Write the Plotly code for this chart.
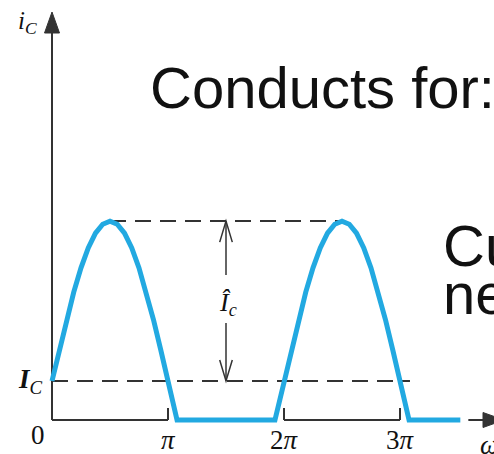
import plotly.graph_objects as go

# Collector current i_C against phase (multiples of pi); current in units of I_C
phase_arch1 = [0.0, 0.0625, 0.125, 0.1875, 0.25, 0.3125, 0.375, 0.4375, 0.5,
               0.5625, 0.625, 0.6875, 0.75, 0.8125, 0.875, 0.9375, 1.0, 1.078]
current_arch1 = [1.0, 1.8, 2.57, 3.28, 3.9, 4.41, 4.79, 5.02, 5.1,
                 5.02, 4.79, 4.41, 3.9, 3.28, 2.57, 1.8, 1.0, 0.0]
phase_arch2 = [1.922, 2.0, 2.0625, 2.125, 2.1875, 2.25, 2.3125, 2.375, 2.4375, 2.5,
               2.5625, 2.625, 2.6875, 2.75, 2.8125, 2.875, 2.9375, 3.0, 3.078]
current_arch2 = [0.0, 1.0, 1.8, 2.57, 3.28, 3.9, 4.41, 4.79, 5.02, 5.1,
                 5.02, 4.79, 4.41, 3.9, 3.28, 2.57, 1.8, 1.0, 0.0]
phase_cutoff_end = 3.52

quiescent_level = 1.0      # I_C
peak_level = 5.1           # I_C + Î_c

tick_phases = [1, 2, 3]
tick_labels = ["<i>π</i>", "2<i>π</i>", "3<i>π</i>"]

W, H = 494, 454
X_RANGE = [-0.4483, 3.8103]
Y_RANGE = [-0.8718, 10.769]
DX = (X_RANGE[1] - X_RANGE[0]) / W   # data units per pixel
DY = (Y_RANGE[1] - Y_RANGE[0]) / H

AXIS = "#333333"
BLUE = "#22A9E1"
SERIF = "Liberation Serif, Times New Roman, serif"
SANS = "Liberation Sans, Arial, sans-serif"

x_curve = phase_arch1 + phase_arch2 + [phase_cutoff_end]
y_curve = current_arch1 + current_arch2 + [0.0]

fig = go.Figure()
fig.add_trace(go.Scatter(x=x_curve, y=y_curve, mode="lines",
                         line=dict(color=BLUE, width=5), hoverinfo="skip"))

shapes = []


def seg(x0, y0, x1, y1, color=AXIS, width=2, dash=None):
    shapes.append(dict(type="line", xref="x", yref="y", x0=x0, y0=y0, x1=x1, y1=y1,
                       line=dict(color=color, width=width, dash=dash), layer="below"))


def path(d, fill=None, width=2):
    shapes.append(dict(type="path", xref="x", yref="y", path=d,
                       fillcolor=fill if fill else "rgba(0,0,0,0)",
                       line=dict(color=AXIS, width=width if not fill else 1), layer="below"))


# vertical axis with filled arrowhead
head_len, head_half = 21, 7.5
y_tip = Y_RANGE[1] - 12 * DY
seg(0, 0, 0, y_tip - head_len * DY)
path(f"M 0 {y_tip} L {-head_half * DX} {y_tip - head_len * DY} "
     f"L {head_half * DX} {y_tip - head_len * DY} Z", fill=AXIS)

# horizontal axis: brackets over the conduction angles, then the arrow
tick_h = 12 * DY
seg(0, 0, tick_phases[0], 0)
seg(tick_phases[0], 0, tick_phases[0], tick_h)
seg(tick_phases[1], 0, tick_phases[2], 0)
seg(tick_phases[1], 0, tick_phases[1], tick_h)
seg(tick_phases[2], 0, tick_phases[2], tick_h)
x_arrow0 = phase_cutoff_end + 8 * DX
x_tip = X_RANGE[1] + 10 * DX
seg(x_arrow0, 0, x_tip - head_len * DX, 0)
path(f"M {x_tip} 0 L {x_tip - head_len * DX} {head_half * DY} "
     f"L {x_tip - head_len * DX} {-head_half * DY} Z", fill=AXIS)

# dashed reference levels
seg(0, quiescent_level, 3.086, quiescent_level, dash="16px,9px")
seg(0.5, peak_level, 2.5, peak_level, dash="16px,9px")

# double-headed dimension arrow for the peak amplitude
xa = 1.5
seg(xa, peak_level, xa, 3.72, width=1.5)
seg(xa, 2.49, xa, quiescent_level, width=1.5)
chev_len, chev_half = 21, 6.3
path(f"M {xa - chev_half * DX} {peak_level - chev_len * DY} L {xa} {peak_level} "
     f"L {xa + chev_half * DX} {peak_level - chev_len * DY}", width=1.5)
path(f"M {xa - chev_half * DX} {quiescent_level + chev_len * DY} L {xa} {quiescent_level} "
     f"L {xa + chev_half * DX} {quiescent_level + chev_len * DY}", width=1.5)

annotations = []


def label(text, x, y, size, family=SERIF, xanchor="center", xref="x", yref="y"):
    annotations.append(dict(text=text, x=x, y=y, xref=xref, yref=yref, showarrow=False,
                            xanchor=xanchor, yanchor="middle",
                            font=dict(family=family, size=size, color="#111111")))


def px_label(text, px, py, size, family=SERIF, xanchor="center"):
    label(text, px / W, 1 - py / H, size, family, xanchor, "paper", "paper")


px_label("<i>i</i><sub><i>C</i></sub>", 27, 22, 25)
px_label("<i><b>I</b></i><sub><i>C</i></sub>", 30, 381, 27)
px_label("0", 38, 435, 27)
for ph, txt in zip(tick_phases, tick_labels):
    label(txt, ph, -(440 - 420) * DY, 27)
px_label("<i>ωt</i>", 478, 445, 27, xanchor="left")
label("<i>Î</i><sub><i>c</i></sub>", xa + 2 * DX, (quiescent_level + peak_level) / 2 - 3 * DY, 26)

px_label("Conducts for:", 148, 87, 58, family=SANS, xanchor="left")
px_label("Cu", 441, 245, 58, family=SANS, xanchor="left")
px_label("ne", 441, 293, 58, family=SANS, xanchor="left")

fig.update_layout(
    width=W, height=H, margin=dict(l=0, r=0, t=0, b=0),
    paper_bgcolor="white", plot_bgcolor="white", showlegend=False,
    xaxis=dict(range=X_RANGE, visible=False, fixedrange=True),
    yaxis=dict(range=Y_RANGE, visible=False, fixedrange=True),
    shapes=shapes, annotations=annotations,
)

fig.write_html("out.html")
